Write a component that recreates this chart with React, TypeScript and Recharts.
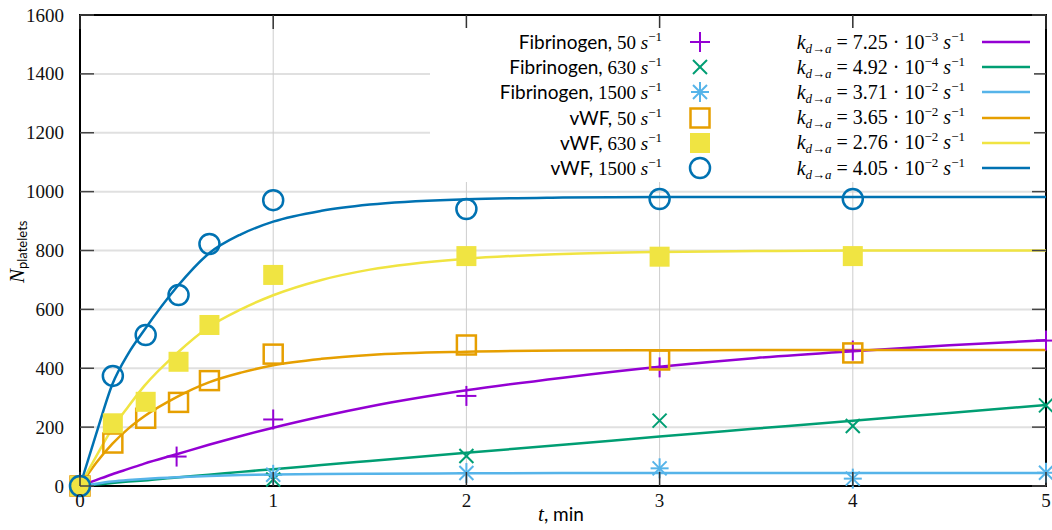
import React from "react";
import {
  ComposedChart,
  Line,
  Scatter,
  XAxis,
  YAxis,
  CartesianGrid,
  ReferenceArea,
  Legend,
  Label,
} from "recharts";

// series meta
const surfaces = ["Fibrinogen", "Fibrinogen", "Fibrinogen", "vWF", "vWF", "vWF"];
const shearRates = ["50", "630", "1500", "50", "630", "1500"];
const kMantissa = ["7.25", "4.92", "3.71", "3.65", "2.76", "4.05"];
const kExponent = ["−3", "−4", "−2", "−2", "−2", "−2"];
const colors = ["#9400d3", "#009e73", "#56b4e9", "#e69f00", "#f0e442", "#0072b2"];
const markers = ["plus", "cross", "star", "square", "filledSquare", "circle"];

// measured points (t in min)
const fibT = [0, 1, 2, 3, 4, 5];
const fib50T = [0, 0.5, 1, 2, 3, 4, 5];
const fib50 = [0, 100, 226, 306, 403, 460, 494];
const fib630 = [0, 22, 102, 222, 204, 274];
const fib1500 = [0, 38, 44, 60, 25, 45];
const vwfT = [0, 0.17, 0.34, 0.51, 0.67, 1, 2, 3, 4];
const vwf50 = [0, 146, 230, 284, 358, 448, 479, 428, 452];
const vwf630 = [0, 213, 286, 422, 547, 717, 781, 779, 781];
const vwf1500 = [0, 374, 513, 649, 822, 971, 941, 975, 975];

// fitted curves
const fitT = [0, 0.083, 0.167, 0.25, 0.333, 0.5, 0.667, 0.833, 1, 1.25, 1.5, 2, 2.5, 3, 3.5, 4, 4.5, 5];
const fitFib50 = [0, 20, 40, 58, 76, 108, 140, 170, 198, 236, 270, 325, 368, 405, 435, 458, 478, 495];
const fitFib630 = [0, 5, 10, 15, 19, 29, 38, 48, 57, 71, 85, 113, 140, 168, 195, 222, 248, 275];
const fitFib1500 = [0, 8, 15, 20, 24, 30, 34, 37, 39, 41, 42, 43, 44, 44, 44, 44, 44, 44];
const fitVwf50 = [0, 78, 143, 195, 237, 302, 352, 385, 410, 432, 445, 456, 460, 461, 462, 462, 462, 462];
const fitVwf630 = [0, 100, 195, 270, 340, 450, 540, 600, 648, 700, 735, 772, 788, 795, 798, 800, 800, 800];
const fitVwf1500 = [0, 175, 345, 450, 530, 675, 790, 855, 898, 935, 956, 974, 980, 982, 982, 982, 982, 982];

const xTicks = [0, 1, 2, 3, 4, 5];
const yTicks = [0, 200, 400, 600, 800, 1000, 1200, 1400, 1600];

const pointT = [fib50T, fibT, fibT, vwfT, vwfT, vwfT];
const pointN = [fib50, fib630, fib1500, vwf50, vwf630, vwf1500];
const fitN = [fitFib50, fitFib630, fitFib1500, fitVwf50, fitVwf630, fitVwf1500];

const PLOT = { left: 80, right: 1046, top: 15, bottom: 486 };
const SERIF = "'Liberation Serif', 'DejaVu Serif', serif";
const SANS = "Lato, 'Open Sans', sans-serif";

function Marker({ kind, cx, cy, color }: { kind: string; cx: number; cy: number; color: string }) {
  if (kind === "plus") {
    return (
      <g stroke={color} strokeWidth={2}>
        <line x1={cx - 10} x2={cx + 10} y1={cy} y2={cy} />
        <line x1={cx} x2={cx} y1={cy - 10} y2={cy + 10} />
      </g>
    );
  }
  if (kind === "cross") {
    return (
      <g stroke={color} strokeWidth={2}>
        <line x1={cx - 7} x2={cx + 7} y1={cy - 7} y2={cy + 7} />
        <line x1={cx - 7} x2={cx + 7} y1={cy + 7} y2={cy - 7} />
      </g>
    );
  }
  if (kind === "star") {
    return (
      <g stroke={color} strokeWidth={2}>
        <line x1={cx - 9} x2={cx + 9} y1={cy} y2={cy} />
        <line x1={cx} x2={cx} y1={cy - 10} y2={cy + 10} />
        <line x1={cx - 7} x2={cx + 7} y1={cy - 7} y2={cy + 7} />
        <line x1={cx - 7} x2={cx + 7} y1={cy + 7} y2={cy - 7} />
      </g>
    );
  }
  if (kind === "square") {
    return <rect x={cx - 9.5} y={cy - 9.5} width={19} height={19} fill="none" stroke={color} strokeWidth={2.5} />;
  }
  if (kind === "filledSquare") {
    return <rect x={cx - 10} y={cy - 10} width={20} height={20} fill={color} />;
  }
  return <circle cx={cx} cy={cy} r={10} fill="none" stroke={color} strokeWidth={2.5} />;
}

const sup: React.CSSProperties = { fontSize: 13, position: "relative", top: -8 };
const sub: React.CSSProperties = { fontSize: 13, position: "relative", top: 4, fontStyle: "italic" };

function KeyBox() {
  return (
    <div style={{ paddingTop: 1.5, color: "#000" }}>
      {surfaces.map((s, i) => (
        <div key={i} style={{ display: "flex", alignItems: "center", height: 25.2, whiteSpace: "nowrap" }}>
          <div style={{ width: 232, textAlign: "right", fontSize: 19 }}>
            <span style={{ fontFamily: SANS }}>{s}, </span>
            <span style={{ fontFamily: SERIF }}>{shearRates[i]} </span>
            <span style={{ fontFamily: SERIF, fontStyle: "italic" }}>s</span>
            <span style={{ fontFamily: SERIF, ...sup }}>−1</span>
          </div>
          <div style={{ width: 76, display: "flex", justifyContent: "center" }}>
            <svg width={26} height={24}>
              <Marker kind={markers[i]} cx={13} cy={12} color={colors[i]} />
            </svg>
          </div>
          <div style={{ width: 227, textAlign: "right", fontSize: 20, fontFamily: SERIF }}>
            <span style={{ fontStyle: "italic" }}>k</span>
            <span style={sub}>d→a</span>
            <span> = {kMantissa[i]} · 10</span>
            <span style={sup}>{kExponent[i]}</span>
            <span style={{ fontStyle: "italic" }}> s</span>
            <span style={sup}>−1</span>
          </div>
          <svg width={65} height={10} style={{ display: "block" }}>
            <line x1={17} x2={65} y1={5} y2={5} stroke={colors[i]} strokeWidth={2.5} />
          </svg>
        </div>
      ))}
    </div>
  );
}

const renderXTick = (props: any) => {
  const { x, payload } = props;
  return (
    <g>
      <line x1={x} x2={x} y1={PLOT.bottom} y2={PLOT.bottom - 14} stroke="#333" strokeWidth={1.5} />
      <line x1={x} x2={x} y1={PLOT.top} y2={PLOT.top + 14} stroke="#333" strokeWidth={1.5} />
      <text x={x} y={507} textAnchor="middle" fontFamily={SERIF} fontSize={19} fill="#111">
        {payload.value}
      </text>
    </g>
  );
};

const renderYTick = (props: any) => {
  const { y, payload } = props;
  return (
    <g>
      <line x1={PLOT.left} x2={PLOT.left + 14} y1={y} y2={y} stroke="#444" strokeWidth={1.5} />
      <line x1={PLOT.right} x2={PLOT.right - 14} y1={y} y2={y} stroke="#444" strokeWidth={1.5} />
      <text x={64} y={y + 6.5} textAnchor="end" fontFamily={SERIF} fontSize={19} fill="#111">
        {payload.value}
      </text>
    </g>
  );
};

export default function App() {
  return (
    <div style={{ position: "absolute", left: 0, top: 0, background: "#fff" }}>
      <ComposedChart
        width={1052}
        height={530}
        margin={{ top: PLOT.top, right: 1052 - PLOT.right, bottom: 0, left: 0 }}
      >
        <CartesianGrid vertical={false} stroke="#e0e0e0" strokeWidth={2} />
        <CartesianGrid horizontal={false} stroke="#cdcdcd" strokeWidth={1} />
        <XAxis
          type="number"
          dataKey="t"
          domain={[0, 5]}
          ticks={xTicks}
          height={530 - PLOT.bottom}
          axisLine={false}
          tickLine={false}
          tick={renderXTick}
          interval={0}
        >
          <Label
            content={() => (
              <text x={561} y={521} textAnchor="middle" fill="#000">
                <tspan fontFamily={SERIF} fontStyle="italic" fontSize={21}>t</tspan>
                <tspan fontFamily={SANS} fontSize={19}>,  min</tspan>
              </text>
            )}
          />
        </XAxis>
        <YAxis
          type="number"
          dataKey="n"
          domain={[0, 1600]}
          ticks={yTicks}
          width={PLOT.left}
          axisLine={false}
          tickLine={false}
          tick={renderYTick}
          interval={0}
        >
          <Label
            content={() => (
              <text transform="rotate(-90)" x={-283} y={24} textAnchor="start" fill="#000">
                <tspan fontFamily={SERIF} fontStyle="italic" fontSize={21}>N</tspan>
                <tspan fontFamily={SANS} fontSize={13} dy={3}>platelets</tspan>
              </text>
            )}
          />
        </YAxis>
        <Legend
          layout="vertical"
          align="center"
          verticalAlign="middle"
          content={() => <KeyBox />}
          wrapperStyle={{ left: 430, top: 28, width: 604, height: 154, background: "#fff" }}
        />
        {fitN.map((arr, i) => (
          <Line
            key={"fit" + i}
            data={fitT.map((t, j) => ({ t, n: arr[j] }))}
            dataKey="n"
            type="monotone"
            stroke={colors[i]}
            strokeWidth={2.5}
            dot={false}
            activeDot={false}
            legendType="none"
            isAnimationActive={false}
          />
        ))}
        {pointN.map((arr, i) => (
          <Scatter
            key={"pts" + i}
            data={pointT[i].map((t, j) => ({ t, n: arr[j] }))}
            dataKey="n"
            legendType="none"
            isAnimationActive={false}
            shape={(p: any) => <Marker kind={markers[i]} cx={p.cx} cy={p.cy} color={colors[i]} />}
          />
        ))}
        <ReferenceArea x1={0} x2={5} y1={0} y2={1600} fill="none" stroke="#000" strokeWidth={2} />
      </ComposedChart>
    </div>
  );
}
